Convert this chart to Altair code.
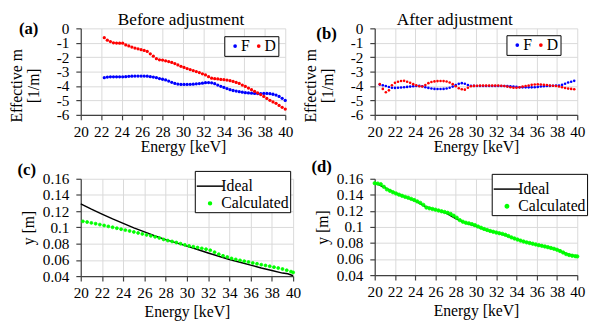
import altair as alt
import pandas as pd

FONT = "Liberation Serif"

# ---------------- data ----------------
X_TICKS = [20, 22, 24, 26, 28, 30, 32, 34, 36, 38, 40]
M_TICKS = [-6, -5, -4, -3, -2, -1, 0]
Y_TICKS = [0.04, 0.06, 0.08, 0.1, 0.12, 0.14, 0.16]

# (a) before adjustment
E_A = [22.3, 22.6, 22.9, 23.2, 23.5, 23.8, 24.1, 24.4, 24.7, 25.0,
       25.3, 25.6, 25.9, 26.2, 26.5, 26.8, 27.1, 27.4, 27.7, 28.0,
       28.3, 28.6, 28.9, 29.2, 29.5, 29.8, 30.1, 30.4, 30.7, 31.0,
       31.3, 31.6, 31.9, 32.2, 32.5, 32.8, 33.1, 33.4, 33.7, 34.0,
       34.3, 34.6, 34.9, 35.2, 35.5, 35.8, 36.1, 36.4, 36.7, 37.0,
       37.3, 37.6, 37.9, 38.2, 38.5, 38.8, 39.1, 39.4, 39.7, 40.0]
F_A = [-3.42, -3.38, -3.36, -3.36, -3.36, -3.36, -3.36, -3.35, -3.33, -3.32,
       -3.31, -3.31, -3.31, -3.31, -3.32, -3.35, -3.38, -3.42, -3.48, -3.53,
       -3.58, -3.66, -3.74, -3.82, -3.86, -3.89, -3.89, -3.89, -3.88, -3.87,
       -3.85, -3.83, -3.80, -3.77, -3.76, -3.78, -3.84, -3.93, -4.02, -4.10,
       -4.18, -4.25, -4.31, -4.35, -4.39, -4.43, -4.46, -4.48, -4.50, -4.51,
       -4.52, -4.52, -4.51, -4.51, -4.53, -4.57, -4.63, -4.72, -4.85, -5.00]
D_A = [-0.65, -0.82, -0.92, -1.00, -1.02, -1.03, -1.03, -1.15, -1.22, -1.30,
       -1.37, -1.42, -1.48, -1.53, -1.60, -1.77, -1.93, -2.10, -2.18, -2.20,
       -2.25, -2.30, -2.36, -2.44, -2.54, -2.63, -2.71, -2.79, -2.86, -2.93,
       -3.00, -3.07, -3.15, -3.23, -3.35, -3.46, -3.49, -3.51, -3.54, -3.56,
       -3.59, -3.63, -3.68, -3.75, -3.82, -3.93, -4.03, -4.14, -4.25, -4.37,
       -4.48, -4.59, -4.72, -4.86, -4.99, -5.10, -5.20, -5.35, -5.48, -5.60]

# (b) after adjustment
E_B = [20.5, 20.8, 21.1, 21.4, 21.7, 22.0, 22.3, 22.6, 22.9, 23.2,
       23.5, 23.8, 24.1, 24.4, 24.7, 25.0, 25.3, 25.6, 25.9, 26.2,
       26.5, 26.8, 27.1, 27.4, 27.7, 28.0, 28.3, 28.6, 28.9, 29.2,
       29.5, 29.8, 30.1, 30.4, 30.7, 31.0, 31.3, 31.6, 31.9, 32.2,
       32.5, 32.8, 33.1, 33.4, 33.7, 34.0, 34.3, 34.6, 34.9, 35.2,
       35.5, 35.8, 36.1, 36.4, 36.7, 37.0, 37.3, 37.6, 37.9, 38.2,
       38.5, 38.8, 39.1, 39.4, 39.7]
F_B = [-3.90, -3.95, -4.00, -4.07, -4.12, -4.13, -4.12, -4.10, -4.08, -4.06,
       -4.04, -4.02, -4.00, -3.99, -4.02, -4.08, -4.13, -4.17, -4.20, -4.21,
       -4.21, -4.20, -4.17, -4.12, -4.04, -3.94, -3.85, -3.80, -3.84, -3.93,
       -3.98, -3.99, -4.00, -4.00, -4.00, -4.00, -4.00, -4.00, -4.00, -4.00,
       -4.00, -4.00, -4.01, -4.02, -4.04, -4.06, -4.08, -4.09, -4.09, -4.09,
       -4.09, -4.08, -4.06, -4.03, -4.01, -4.00, -3.99, -3.98, -3.97, -3.96,
       -3.92, -3.84, -3.76, -3.70, -3.64]
D_B = [-3.87, -4.20, -4.43, -4.30, -3.95, -3.78, -3.70, -3.65, -3.64, -3.70,
       -3.78, -3.87, -3.95, -4.02, -4.03, -3.93, -3.80, -3.72, -3.68, -3.66,
       -3.65, -3.66, -3.69, -3.76, -3.87, -4.02, -4.15, -4.22, -4.25, -4.12,
       -4.02, -3.99, -3.98, -3.97, -3.97, -3.97, -3.97, -3.97, -3.97, -3.97,
       -3.98, -4.00, -4.04, -4.08, -4.12, -4.12, -4.09, -4.04, -4.00, -3.96,
       -3.92, -3.89, -3.88, -3.89, -3.91, -3.93, -3.96, -3.98, -4.00, -4.03,
       -4.08, -4.14, -4.18, -4.20, -4.22]

# (c) y before adjustment
E_C_IDEAL = [20, 21, 22, 23, 24, 25, 26, 27, 28, 29, 30,
             31, 32, 33, 34, 35, 36, 37, 38, 39, 39.5, 40]
Y_C_IDEAL = [0.129, 0.1225, 0.1165, 0.1105, 0.105, 0.0995, 0.0945, 0.0895, 0.085, 0.081, 0.077,
             0.0728, 0.0685, 0.0645, 0.0605, 0.057, 0.0535, 0.050, 0.047, 0.0437, 0.0428, 0.0405]
E_C_CALC = [20.2, 20.6, 21.0, 21.4, 21.8, 22.2, 22.6, 23.0, 23.4, 23.8,
            24.2, 24.6, 25.0, 25.4, 25.8, 26.2, 26.6, 27.0, 27.4, 27.8,
            28.2, 28.6, 29.0, 29.4, 29.8, 30.2, 30.6, 31.0, 31.4, 31.8,
            32.2, 32.6, 33.0, 33.4, 33.8, 34.2, 34.6, 35.0, 35.4, 35.8,
            36.2, 36.6, 37.0, 37.4, 37.8, 38.2, 38.6, 39.0, 39.4, 39.8,
            40.0]
Y_C_CALC = [0.1075, 0.1066, 0.1056, 0.1046, 0.1035, 0.1024, 0.1013, 0.1002, 0.0990, 0.0978,
            0.0967, 0.0956, 0.0944, 0.0932, 0.0920, 0.0908, 0.0896, 0.0884, 0.0870, 0.0852,
            0.0838, 0.0827, 0.0814, 0.0800, 0.0785, 0.0772, 0.0762, 0.0752, 0.0742, 0.0732,
            0.0718, 0.0695, 0.0670, 0.0650, 0.0635, 0.0618, 0.0606, 0.0594, 0.0584, 0.0573,
            0.0562, 0.0552, 0.0541, 0.0531, 0.0521, 0.0510, 0.0499, 0.0487, 0.0472, 0.0455,
            0.0445]

# (d) y after adjustment
E_D_IDEAL = [20, 21, 22, 23, 24, 25, 26, 27, 28, 29, 30,
             31, 32, 33, 34, 35, 36, 37, 38, 39, 40]
Y_D_IDEAL = [0.155, 0.149, 0.1425, 0.1375, 0.1325, 0.1255, 0.1213, 0.1175, 0.1105, 0.1048, 0.1008,
             0.0962, 0.093, 0.0893, 0.0846, 0.081, 0.078, 0.0755, 0.0718, 0.0665, 0.0633]
E_D_CALC = [20.0, 20.3, 20.6, 20.9, 21.2, 21.5, 21.8, 22.1, 22.4, 22.7,
            23.0, 23.3, 23.6, 23.9, 24.2, 24.5, 24.8, 25.1, 25.4, 25.7,
            26.0, 26.3, 26.6, 26.9, 27.2, 27.5, 27.8, 28.1, 28.4, 28.7,
            29.0, 29.3, 29.6, 29.9, 30.2, 30.5, 30.8, 31.1, 31.4, 31.7,
            32.0, 32.3, 32.6, 32.9, 33.2, 33.5, 33.8, 34.1, 34.4, 34.7,
            35.0, 35.3, 35.6, 35.9, 36.2, 36.5, 36.8, 37.1, 37.4, 37.7,
            38.0, 38.3, 38.6, 38.9, 39.2, 39.5, 39.8, 40.0]
Y_D_CALC = [0.1545, 0.1540, 0.1532, 0.1500, 0.1468, 0.1450, 0.1432, 0.1417, 0.1402, 0.1388,
            0.1375, 0.1364, 0.1350, 0.1335, 0.1318, 0.1300, 0.1275, 0.1242, 0.1232, 0.1224,
            0.1215, 0.1205, 0.1195, 0.1186, 0.1176, 0.1162, 0.1140, 0.1115, 0.1085, 0.1065,
            0.1052, 0.1045, 0.1035, 0.1022, 0.1005, 0.0990, 0.0975, 0.0962, 0.0950, 0.0940,
            0.0930, 0.0922, 0.0914, 0.0902, 0.0887, 0.0870, 0.0856, 0.0843, 0.0830, 0.0818,
            0.0808, 0.0800, 0.0791, 0.0782, 0.0773, 0.0765, 0.0757, 0.0748, 0.0738, 0.0728,
            0.0716, 0.0700, 0.0682, 0.0662, 0.0650, 0.0642, 0.0636, 0.0633]

BLUE, RED, GREEN = "#0000ff", "#ff0000", "#00ff00"
LEG_Y = ["Ideal", "Calculated"]

# ---------------- helpers ----------------
def x_enc(title_pad):
    return alt.X("E:Q", scale=alt.Scale(domain=[20, 40], nice=False, zero=False),
                 axis=alt.Axis(values=X_TICKS, title="Energy [keV]", titlePadding=title_pad))


def m_enc(title_pad):
    return alt.Y("v:Q", scale=alt.Scale(domain=[-6, 0], nice=False, zero=False),
                 axis=alt.Axis(values=M_TICKS, title=["Effective m", "[1/m]"],
                               labelExpr="'' + datum.value", titlePadding=title_pad,
                               titleLineHeight=17, titleY=58))


def y_enc(title_pad):
    return alt.Y("v:Q", scale=alt.Scale(domain=[0.04, 0.16], nice=False, zero=False),
                 axis=alt.Axis(values=Y_TICKS, title="y [m]",
                               labelExpr="'' + datum.value", titlePadding=title_pad))


def text_label(txt, dx, dy, size, weight, baseline):
    return alt.Chart(pd.DataFrame({"t": [txt]})).mark_text(
        font=FONT, fontSize=size, fontWeight=weight, align="center", baseline=baseline,
        color="black"
    ).encode(text="t:N", x=alt.value(dx), y=alt.value(dy))


def fd_panel(E, F, D, title, title_x, lx, ly, label, ldx, ldy, size, w):
    df = pd.DataFrame({"E": E + E, "v": F + D, "s": ["F"] * len(E) + ["D"] * len(E)})
    pts = alt.Chart(df).mark_circle(size=size, opacity=1).encode(
        x=x_enc(-1),
        y=m_enc(15),
        color=alt.Color("s:N", scale=alt.Scale(domain=["F", "D"], range=[BLUE, RED]),
                        legend=alt.Legend(title=None, orient="none", legendX=lx, legendY=ly,
                                          direction="horizontal", strokeColor="black",
                                          fillColor="white", padding=2, symbolSize=14,
                                          symbolType="circle", labelFont=FONT,
                                          labelFontSize=16, labelOffset={"expr": "-2"},
                                          columnPadding={"expr": "-6"},
                                          symbolOffset=1, cornerRadius=0)),
    )
    return alt.layer(
        pts,
        text_label(label, ldx, ldy, 17, "bold", "middle"),
        text_label(title, title_x, -3.5, 17.5, "normal", "alphabetic"),
    ).properties(width=w, height=88)


def y_panel(Ei, Yi, Ec, Yc, label, ldx, ldy, lx, ly, size, w, h):
    dfi = pd.DataFrame({"E": Ei, "v": Yi})
    dfc = pd.DataFrame({"E": Ec, "v": Yc, "s": ["Calculated"] * len(Ec)})
    line = alt.Chart(dfi).mark_line(color="black", strokeWidth=1.5).encode(
        x=x_enc(3), y=y_enc(6))
    leg = alt.Legend(
        title=None, orient="none", legendX=lx, legendY=ly, strokeColor="black",
        fillColor="white", padding=1, labelFont=FONT, labelFontSize=16,
        labelOffset={"expr": "-3"}, rowPadding=1, symbolOffset=0, cornerRadius=0,
        symbolStrokeWidth=1.5, symbolOpacity=1,
    )
    pts = alt.Chart(dfc).mark_point(filled=True, opacity=1, strokeWidth=0.8).encode(
        x=x_enc(3), y=y_enc(6),
        color=alt.Color("s:N", scale=alt.Scale(domain=LEG_Y, range=["black", GREEN]), legend=leg),
        stroke=alt.Stroke("s:N", scale=alt.Scale(domain=LEG_Y, range=["black", GREEN]), legend=leg),
        shape=alt.Shape("s:N", scale=alt.Scale(domain=LEG_Y, range=["stroke", "circle"]), legend=leg),
        size=alt.Size("s:N", scale=alt.Scale(type="ordinal", domain=LEG_Y, range=[729, size]), legend=leg),
    )
    return alt.layer(line, pts, text_label(label, ldx, ldy, 17, "bold", "middle")).properties(
        width=w, height=h)


pa = fd_panel(E_A, F_A, D_A, "Before adjustment", 102, 146, 8, "(a)", -53, 1, 11, 208)
pb = fd_panel(E_B, F_B, D_B, "After adjustment", 81.5, 134, 7, "(b)", -49, 6, 7, 206)
pc = y_panel(E_C_IDEAL, Y_C_IDEAL, E_C_CALC, Y_C_CALC, "(c)", -55, -9, 116, -8, 9, 216, 99)
pd_ = y_panel(E_D_IDEAL, Y_D_IDEAL, E_D_CALC, Y_D_CALC, "(d)", -54, -12, 119, -5, 12, 206, 98)

chart = alt.concat(pa, pb, pc, pd_, columns=2, spacing={"row": 65, "column": 83},
                   bounds="flush").resolve_scale(
    color="independent", stroke="independent", shape="independent", size="independent",
    x="independent", y="independent",
).resolve_legend(
    color="independent", stroke="independent", shape="independent", size="independent",
).properties(
    padding={"left": 1, "top": 0, "right": 4, "bottom": 0},
    background="white",
).configure(
    font=FONT,
).configure_axis(
    labelFont=FONT, titleFont=FONT, labelFontSize=15.5, titleFontSize=16,
    labelColor="black", titleColor="black", titleFontWeight="normal",
    domainColor="#404040", tickColor="#404040", domainWidth=1.2, tickWidth=1.2,
    gridColor="#d9d9d9", gridWidth=1, tickSize=5, labelFlush=False, labelOverlap=False,
    grid=True,
).configure_axisX(
    labelPadding=5,
).configure_axisY(
    labelPadding=7,
).configure_legend(
    labelFont=FONT,
).configure_view(
    stroke=None,
)

chart.save("out.html", embed_options={"renderer": "svg", "actions": False})
